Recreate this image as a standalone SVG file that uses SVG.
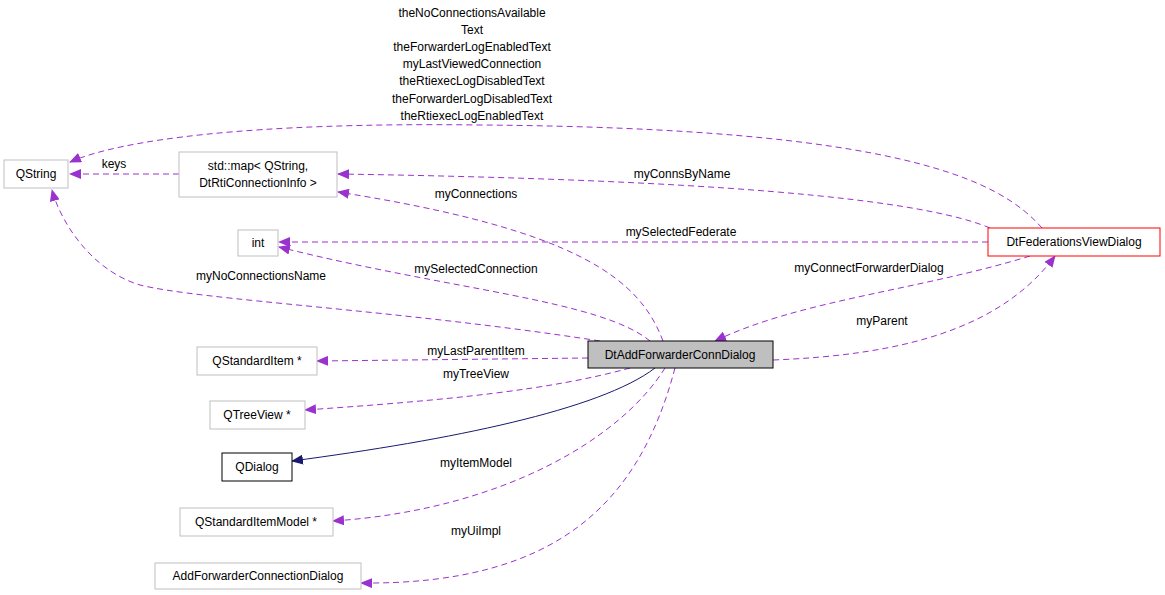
<svg xmlns="http://www.w3.org/2000/svg" width="1165" height="595" viewBox="0 0 1165 595">
<style>
text{font-family:"Liberation Sans",Arial,sans-serif;font-size:12px;fill:#000}
.n{fill:#fff;stroke:#bfbfbf;stroke-width:1}
.e{fill:none;stroke:#9a32cd;stroke-dasharray:6,4;stroke-width:1}
.l{text-anchor:middle}
</style>
<defs>
<marker id="p" markerWidth="12" markerHeight="10" refX="11" refY="5" orient="auto" markerUnits="userSpaceOnUse"><path d="M0,0 L12,5 L0,10 z" fill="#9a32cd"/></marker>
<marker id="b" markerWidth="12" markerHeight="10" refX="11" refY="5" orient="auto" markerUnits="userSpaceOnUse"><path d="M0,0 L12,5 L0,10 z" fill="#191970"/></marker>
</defs>
<rect width="1165" height="595" fill="#fff"/>
<g id="edges">
<path class="e" marker-end="url(#p)" d="M1042,228 C1000,180 900,128 480,125 C250,122 120,140 70,162"/>
<path class="e" marker-end="url(#p)" d="M179,174 L70,174"/>
<path class="e" marker-end="url(#p)" d="M990,228 C900,190 600,178 338,174"/>
<path class="e" marker-end="url(#p)" d="M988,242 L279,242"/>
<path class="e" marker-end="url(#p)" d="M1030,256 C920,290 800,300 715,341"/>
<path class="e" marker-end="url(#p)" d="M773,360 C900,355 1000,330 1055,256"/>
<path class="e" marker-end="url(#p)" d="M663,341 C640,280 580,230 338,192"/>
<path class="e" marker-end="url(#p)" d="M650,341 C600,300 450,290 279,247"/>
<path class="e" marker-end="url(#p)" d="M600,341 C400,310 200,300 140,285 C90,270 60,220 52,190"/>
<path class="e" marker-end="url(#p)" d="M588,358 L317,361"/>
<path class="e" marker-end="url(#p)" d="M630,368 C550,390 450,400 305,410"/>
<path fill="none" stroke="#191970" marker-end="url(#b)" d="M655,368 C600,410 450,440 292,461"/>
<path class="e" marker-end="url(#p)" d="M665,368 C620,440 500,510 333,521"/>
<path class="e" marker-end="url(#p)" d="M675,368 C640,500 560,585 361,583"/>
</g>
<g id="labels">
<text class="l" x="472" y="17">theNoConnectionsAvailable</text>
<text class="l" x="472" y="34">Text</text>
<text class="l" x="472" y="51">theForwarderLogEnabledText</text>
<text class="l" x="472" y="68">myLastViewedConnection</text>
<text class="l" x="472" y="85">theRtiexecLogDisabledText</text>
<text class="l" x="472" y="103">theForwarderLogDisabledText</text>
<text class="l" x="472" y="120">theRtiexecLogEnabledText</text>
<text class="l" x="114" y="168">keys</text>
<text class="l" x="682" y="178">myConnsByName</text>
<text class="l" x="476" y="198">myConnections</text>
<text class="l" x="681" y="236">mySelectedFederate</text>
<text class="l" x="476" y="273">mySelectedConnection</text>
<text class="l" x="261" y="280">myNoConnectionsName</text>
<text class="l" x="869" y="272">myConnectForwarderDialog</text>
<text class="l" x="882" y="325">myParent</text>
<text class="l" x="476" y="355">myLastParentItem</text>
<text class="l" x="476" y="378">myTreeView</text>
<text class="l" x="476" y="467">myItemModel</text>
<text class="l" x="476" y="535">myUiImpl</text>
</g>
<g id="QString"><rect class="n" x="4" y="160" width="64" height="28"/><text class="l" x="36" y="178">QString</text></g>
<g id="map"><rect class="n" x="179" y="152" width="158" height="45"/><text class="l" x="258" y="170">std::map&lt; QString,</text><text class="l" x="258" y="187">DtRtiConnectionInfo &gt;</text></g>
<g id="int"><rect class="n" x="238" y="230" width="40" height="26"/><text class="l" x="258" y="247">int</text></g>
<g id="QStandardItem"><rect class="n" x="197" y="347" width="120" height="28"/><text class="l" x="257" y="365">QStandardItem *</text></g>
<g id="QTreeView"><rect class="n" x="210" y="401" width="95" height="28"/><text class="l" x="257" y="419">QTreeView *</text></g>
<g id="QDialog"><rect x="222" y="453" width="70" height="28" fill="#fff" stroke="#000"/><text class="l" x="257" y="471">QDialog</text></g>
<g id="QStandardItemModel"><rect class="n" x="180" y="508" width="153" height="28"/><text class="l" x="256" y="526">QStandardItemModel *</text></g>
<g id="AddForwarderConnectionDialog"><rect class="n" x="155" y="563" width="206" height="26"/><text class="l" x="258" y="580">AddForwarderConnectionDialog</text></g>
<g id="DtAddForwarderConnDialog"><rect x="588" y="341" width="185" height="27" fill="#bfbfbf" stroke="#000"/><text class="l" x="680" y="359">DtAddForwarderConnDialog</text></g>
<g id="DtFederationsViewDialog"><rect x="988" y="228" width="172" height="28" fill="#fff" stroke="#f00"/><text class="l" x="1074" y="246">DtFederationsViewDialog</text></g>
</svg>
